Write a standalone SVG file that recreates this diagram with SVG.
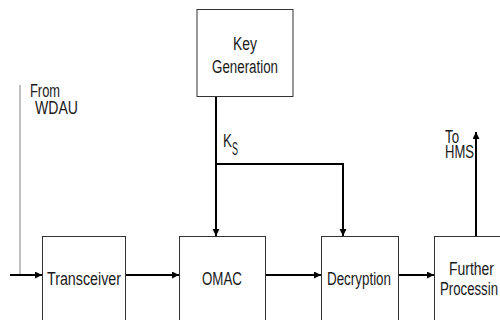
<svg xmlns="http://www.w3.org/2000/svg" width="500" height="320" viewBox="0 0 500 320">
  <style>
    .box { fill: #ffffff; stroke: #333333; stroke-width: 1; }
    .lbl { font-family: "Liberation Sans", Arial, sans-serif; font-size: 18px; fill: #1a1a1a; }
    .wire { fill: none; stroke: #000000; stroke-width: 2; }
    .feed { fill: none; stroke: #808080; stroke-width: 1; }
  </style>
  <defs>
    <marker id="arrow" markerUnits="userSpaceOnUse" markerWidth="8" markerHeight="8" refX="7" refY="3.5" orient="auto">
      <path d="M0,0 L7,3.5 L0,7 z" fill="#000000"/>
    </marker>
  </defs>
  <rect width="500" height="320" fill="#ffffff"/>

  <g id="connectors">
    <line class="feed" x1="20" y1="85" x2="20" y2="275"/>
    <line class="wire" x1="10" y1="275" x2="42" y2="275" marker-end="url(#arrow)"/>
    <line class="wire" x1="125" y1="275" x2="179" y2="275" marker-end="url(#arrow)"/>
    <line class="wire" x1="266" y1="275" x2="321" y2="275" marker-end="url(#arrow)"/>
    <line class="wire" x1="399" y1="275" x2="434" y2="275" marker-end="url(#arrow)"/>
    <line class="wire" x1="216" y1="97" x2="216" y2="236" marker-end="url(#arrow)"/>
    <polyline class="wire" points="216,164 343,164 343,236" marker-end="url(#arrow)"/>
    <line class="wire" x1="476" y1="236" x2="476" y2="132" marker-end="url(#arrow)"/>
    <text class="lbl" x="223" y="147" textLength="9" lengthAdjust="spacingAndGlyphs">K</text>
    <text class="lbl" x="232" y="155" font-size="12" textLength="6" lengthAdjust="spacingAndGlyphs">S</text>
  </g>

  <g id="source-label">
    <text class="lbl" x="30" y="97" textLength="30" lengthAdjust="spacingAndGlyphs">From</text>
    <text class="lbl" x="35" y="114" textLength="43" lengthAdjust="spacingAndGlyphs">WDAU</text>
  </g>

  <g id="sink-label">
    <text class="lbl" x="445" y="143" textLength="14" lengthAdjust="spacingAndGlyphs">To</text>
    <text class="lbl" x="445" y="158" textLength="29" lengthAdjust="spacingAndGlyphs">HMS</text>
  </g>

  <g id="key-generation">
    <rect class="box" x="197" y="9.5" width="96" height="87"/>
    <text class="lbl" x="233" y="50" textLength="24" lengthAdjust="spacingAndGlyphs">Key</text>
    <text class="lbl" x="212" y="73" textLength="66" lengthAdjust="spacingAndGlyphs">Generation</text>
  </g>

  <g id="transceiver">
    <rect class="box" x="42.5" y="236.5" width="83" height="100"/>
    <text class="lbl" x="47" y="285" textLength="74" lengthAdjust="spacingAndGlyphs">Transceiver</text>
  </g>

  <g id="omac">
    <rect class="box" x="179.5" y="236.5" width="86" height="100"/>
    <text class="lbl" x="202" y="285" textLength="40" lengthAdjust="spacingAndGlyphs">OMAC</text>
  </g>

  <g id="decryption">
    <rect class="box" x="321.5" y="236.5" width="77" height="100"/>
    <text class="lbl" x="327" y="285" textLength="64" lengthAdjust="spacingAndGlyphs">Decryption</text>
  </g>

  <g id="further-processing">
    <rect class="box" x="434.5" y="236.5" width="90" height="100"/>
    <text class="lbl" x="449" y="275" textLength="45" lengthAdjust="spacingAndGlyphs">Further</text>
    <text class="lbl" x="440" y="295" textLength="58" lengthAdjust="spacingAndGlyphs">Processin</text>
  </g>
</svg>
